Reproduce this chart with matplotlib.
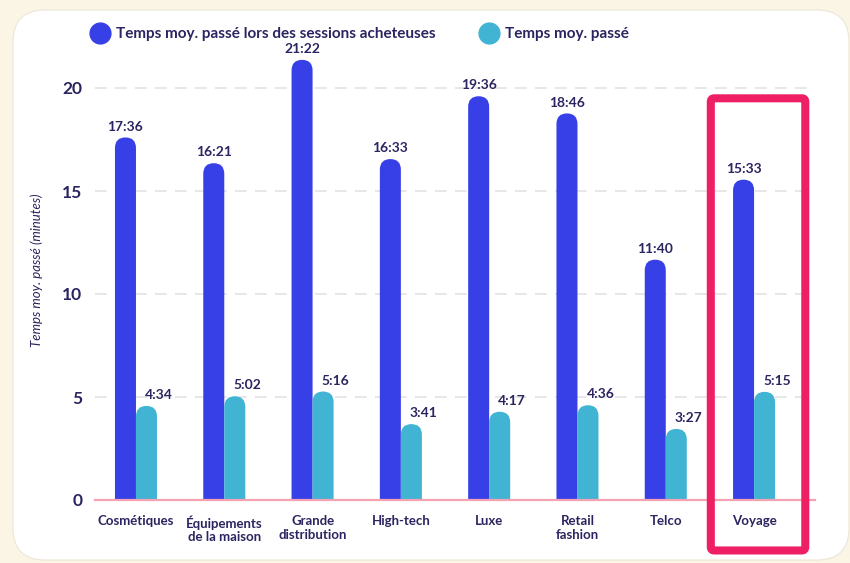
import matplotlib
matplotlib.use("Agg")
import matplotlib.pyplot as plt
from matplotlib.patches import FancyBboxPatch
from matplotlib.lines import Line2D
import numpy as np

# Data: average time spent per sector (mm:ss)
categories = ["Cosmétiques", "Équipements\nde la maison", "Grande\ndistribution",
              "High-tech", "Luxe", "Retail\nfashion", "Telco", "Voyage"]
buyer_labels = ["17:36", "16:21", "21:22", "16:33", "19:36", "18:46", "11:40", "15:33"]
all_labels = ["4:34", "5:02", "5:16", "3:41", "4:17", "4:36", "3:27", "5:15"]
series_names = ["Temps moy. passé lors des sessions acheteuses", "Temps moy. passé"]
y_ticks = [0, 5, 10, 15, 20]


def to_minutes(s):
    m, sec = s.split(":")
    return int(m) + int(sec) / 60.0


buyer_vals = np.array([to_minutes(s) for s in buyer_labels])
all_vals = np.array([to_minutes(s) for s in all_labels])

DARK = "#3740E6"
LIGHT = "#41B4D4"
NAVY = "#2A2560"
PINK = "#EE1F64"
BG = "#FBF5E6"

W, H = 850, 563
fig = plt.figure(figsize=(W / 100, H / 100), dpi=100, facecolor=BG)

# White rounded card behind the chart
bg_ax = fig.add_axes([0, 0, 1, 1], zorder=0)
bg_ax.set_xlim(0, W)
bg_ax.set_ylim(H, 0)
bg_ax.axis("off")
card = FancyBboxPatch((13, 10), 836, 550,
                      boxstyle="round,pad=0,rounding_size=32",
                      facecolor="white", edgecolor="#ECE6D8", linewidth=0.8)
bg_ax.add_patch(card)

ax_left, ax_right, ax_bottom, ax_top = 95, 815, 500, 40
ax = fig.add_axes([ax_left / W, (H - ax_bottom) / H,
                   (ax_right - ax_left) / W, (ax_bottom - ax_top) / H], zorder=2)
ax.set_facecolor("none")

x = np.arange(len(categories))
xlim = (-0.464, 7.69)
px_per_y = 20.6
ylim = (0, (ax_bottom - ax_top) / px_per_y)
ax.set_xlim(*xlim)
ax.set_ylim(*ylim)

px_per_x = (ax_right - ax_left) / (xlim[1] - xlim[0])
aspect = px_per_x / px_per_y
bw = 0.238


def rounded_bars(xpos, vals, color):
    bars = ax.bar(xpos, vals, width=bw, color=color, zorder=3)
    for b in bars:
        bx, bwid, bh = b.get_x(), b.get_width(), b.get_height()
        r = bwid / 2
        b.remove()
        patch = FancyBboxPatch((bx, -r * aspect), bwid, bh + r * aspect,
                               boxstyle=f"round,pad=0,rounding_size={r}",
                               mutation_aspect=aspect,
                               facecolor=color, edgecolor="none", zorder=3)
        ax.add_patch(patch)


rounded_bars(x - bw / 2, buyer_vals, DARK)
rounded_bars(x + bw / 2, all_vals, LIGHT)

label_font = dict(fontfamily="Lato", fontweight="bold", fontsize=10, color=NAVY)
for xi, v, s in zip(x - bw / 2, buyer_vals, buyer_labels):
    ax.annotate(s, (xi, v), xytext=(0, 3.5), textcoords="offset points",
                ha="center", va="bottom", zorder=4, **label_font)
for xi, v, s in zip(x + bw / 2, all_vals, all_labels):
    ax.annotate(s, (xi, v), xytext=(9, 3.5), textcoords="offset points",
                ha="center", va="bottom", zorder=4, **label_font)

# Axes styling
for sp in ax.spines.values():
    sp.set_visible(False)
ax.set_yticks(y_ticks)
ax.set_yticklabels([str(t) for t in y_ticks], fontfamily="Lato",
                   fontweight="bold", fontsize=12.5, color=NAVY)
ax.set_xticks(x)
ax.set_xticklabels(categories, fontfamily="Lato", fontweight="bold",
                   fontsize=9.5, color=NAVY, linespacing=1.15)
ax.tick_params(axis="y", length=0, pad=9)
ax.tick_params(axis="x", length=0, pad=11)
for t in y_ticks[1:]:
    ax.axhline(t, color="#E3E3E3", linewidth=1.2, dashes=(7, 5), zorder=1)
ax.axhline(0, color="#F5A3B4", linewidth=1.6, zorder=4, clip_on=False)

ax.set_ylabel("Temps moy. passé (minutes)", fontfamily="Lato", fontstyle="italic",
              fontsize=9.5, color=NAVY)
ax.yaxis.set_label_coords(-(ax_left - 43) / (ax_right - ax_left), 0.5)

# Highlight frame around the last sector
hl = FancyBboxPatch((6.51, -2.45), 7.58 - 6.51, 19.5 + 2.45,
                    boxstyle="round,pad=0,rounding_size=0.04",
                    mutation_aspect=aspect,
                    facecolor="none", edgecolor=PINK, linewidth=5.8,
                    zorder=5, clip_on=False)
ax.add_patch(hl)

# Legend
handles = [Line2D([], [], marker="o", linestyle="", markersize=15,
                  markerfacecolor=c, markeredgecolor=c) for c in (DARK, LIGHT)]
fig.legend(handles, series_names, loc="center left",
           bbox_to_anchor=(75 / W, 1 - 34 / H), ncol=2, frameon=False,
           handletextpad=0.3, columnspacing=2.7, handlelength=1.5,
           prop=dict(family="Lato", weight="bold", size=11),
           labelcolor=NAVY)

fig.savefig("out.png", dpi=100, facecolor=BG)
